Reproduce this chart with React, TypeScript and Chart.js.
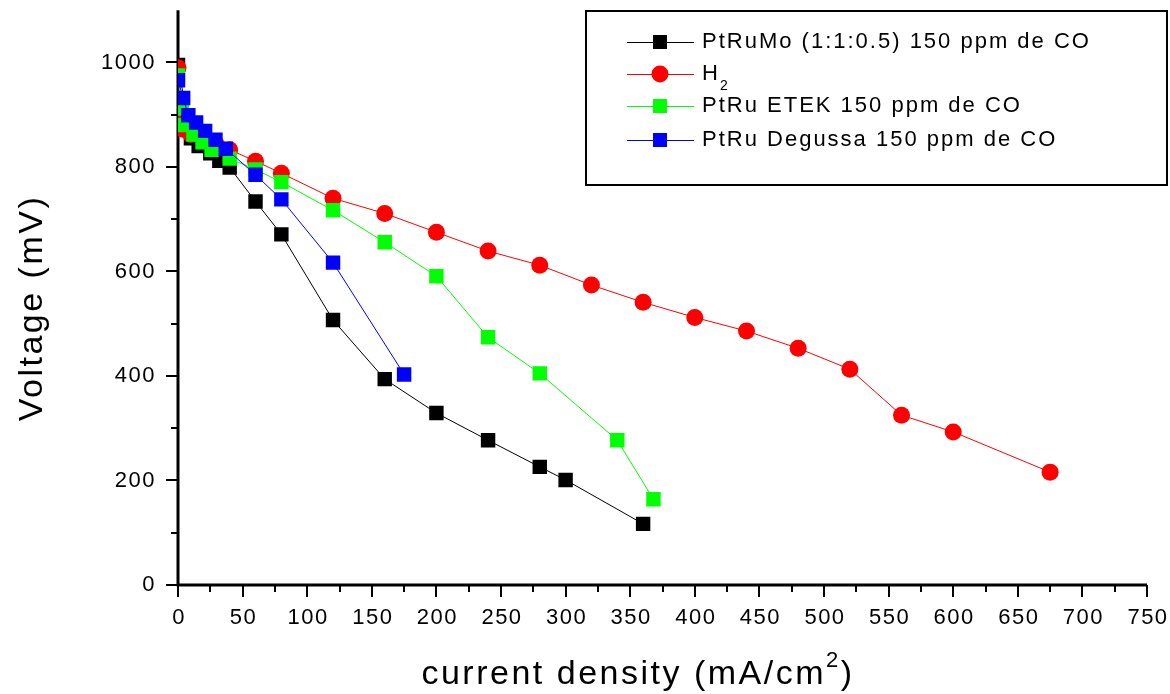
import React, { useEffect, useRef } from 'react';
import { Chart, registerables } from 'chart.js';

Chart.register(...registerables);

// ---- data ----
const ptRuMoX = [0, 10, 16, 25, 32, 40, 60, 80, 120, 160, 200, 240, 280, 300, 360];
const ptRuMoY = [995, 855, 840, 826, 812, 799, 734, 671, 507, 394, 329, 277, 226, 201, 117];

const h2X = [0, 2, 4, 10, 20, 30, 40, 60, 80, 120, 160, 200, 240, 280, 320, 360, 400, 440, 480, 520, 560, 600, 675];
const h2Y = [990, 890, 872, 862, 852, 842, 833, 811, 788, 740, 711, 675, 639, 612, 574, 541, 512, 486, 453, 413, 325, 293, 216];

const etekX = [0, 3, 5, 12, 19, 26, 40, 60, 80, 120, 160, 200, 240, 280, 340, 368];
const etekY = [975, 912, 880, 862, 847, 833, 816, 795, 771, 717, 656, 591, 474, 405, 277, 164];

const degussaX = [0, 4, 8, 14, 21, 29, 37, 60, 80, 120, 175];
const degussaY = [966, 932, 899, 885, 869, 852, 835, 785, 738, 617, 403];

const SERIES_LABELS = [
  'PtRuMo (1:1:0.5) 150 ppm de CO',
  'H',
  'PtRu ETEK 150 ppm de CO',
  'PtRu Degussa 150 ppm de CO',
];
const H2_SUB = '2';

const X_TICK_LABELS = ['0', '50', '100', '150', '200', '250', '300', '350', '400', '450', '500', '550', '600', '650', '700', '750'];
const Y_TICK_LABELS = ['0', '200', '400', '600', '800', '1000'];
const X_MINOR = ['25', '75', '125', '175', '225', '275', '325', '375', '425', '475', '525', '575', '625', '675', '725'];
const Y_MINOR = ['100', '300', '500', '700', '900'];

const X_TITLE = 'current density (mA/cm';
const X_TITLE_SUP = '2';
const X_TITLE_END = ')';
const Y_TITLE = 'Voltage (mV)';

const FONT = '"Liberation Sans", Arial, Helvetica, sans-serif';

const COLORS = ['#000000', '#ff0000', '#00ff00', '#0000ff'];
const STYLES = ['rect', 'circle', 'rect', 'rect'];

function pts(xs: number[], ys: number[]) {
  return xs.map((x, i) => ({ x, y: ys[i] }));
}

const decor = {
  id: 'decor',
  beforeDatasetsDraw(chart: any) {
    const { ctx, chartArea: a, scales } = chart;
    const xs = scales.x;
    const ys = scales.y;
    ctx.save();
    ctx.strokeStyle = '#000';
    ctx.lineWidth = 2;
    X_TICK_LABELS.forEach((l) => {
      const px = Math.round(xs.getPixelForValue(Number(l)));
      ctx.beginPath();
      ctx.moveTo(px, a.bottom);
      ctx.lineTo(px, a.bottom + 12);
      ctx.stroke();
    });
    X_MINOR.forEach((l) => {
      const px = Math.round(xs.getPixelForValue(Number(l)));
      ctx.beginPath();
      ctx.moveTo(px, a.bottom);
      ctx.lineTo(px, a.bottom + 7);
      ctx.stroke();
    });
    Y_TICK_LABELS.forEach((l) => {
      const py = Math.round(ys.getPixelForValue(Number(l)));
      ctx.beginPath();
      ctx.moveTo(a.left, py);
      ctx.lineTo(a.left - 12, py);
      ctx.stroke();
    });
    Y_MINOR.forEach((l) => {
      const py = Math.round(ys.getPixelForValue(Number(l)));
      ctx.beginPath();
      ctx.moveTo(a.left, py);
      ctx.lineTo(a.left - 7, py);
      ctx.stroke();
    });
    ctx.lineWidth = 3;
    ctx.beginPath();
    ctx.moveTo(a.left, a.top);
    ctx.lineTo(a.left, a.bottom);
    ctx.lineTo(a.right, a.bottom);
    ctx.stroke();
    ctx.restore();
  },
  afterDraw(chart: any) {
    const { ctx, chartArea: a, scales } = chart;
    const xs = scales.x;
    const ys = scales.y;
    ctx.save();
    ctx.fillStyle = '#000';
    (ctx as any).letterSpacing = '1.5px';
    ctx.font = `22px ${FONT}`;
    // x tick labels
    ctx.textAlign = 'center';
    ctx.textBaseline = 'middle';
    X_TICK_LABELS.forEach((l) => {
      ctx.fillText(l, xs.getPixelForValue(Number(l)) + 1, a.bottom + 33);
    });
    // y tick labels
    ctx.textAlign = 'right';
    Y_TICK_LABELS.forEach((l) => {
      ctx.fillText(l, a.left - 22, ys.getPixelForValue(Number(l)));
    });

    // y title
    ctx.save();
    (ctx as any).letterSpacing = '2.5px';
    ctx.font = `34px ${FONT}`;
    ctx.translate(33, 308);
    ctx.rotate(-Math.PI / 2);
    ctx.textAlign = 'center';
    ctx.textBaseline = 'middle';
    ctx.fillText(Y_TITLE, 0, 0);
    ctx.restore();

    // x title
    ctx.save();
    (ctx as any).letterSpacing = '2.5px';
    ctx.font = `34px ${FONT}`;
    ctx.textBaseline = 'alphabetic';
    ctx.textAlign = 'left';
    const w1 = ctx.measureText(X_TITLE).width;
    ctx.font = `22px ${FONT}`;
    const w2 = ctx.measureText(X_TITLE_SUP).width;
    ctx.font = `34px ${FONT}`;
    const w3 = ctx.measureText(X_TITLE_END).width;
    const total = w1 + w2 + w3;
    let sx = 638 - total / 2;
    const by = 684;
    ctx.fillText(X_TITLE, sx, by);
    sx += w1;
    ctx.font = `22px ${FONT}`;
    ctx.fillText(X_TITLE_SUP, sx, by - 17);
    sx += w2;
    ctx.font = `34px ${FONT}`;
    ctx.fillText(X_TITLE_END, sx, by);
    ctx.restore();

    // legend
    ctx.save();
    ctx.strokeStyle = '#000';
    ctx.lineWidth = 2;
    ctx.strokeRect(586, 11, 581, 174);
    const rows = [42, 74, 106, 140];
    SERIES_LABELS.forEach((lab, i) => {
      const ry = rows[i];
      ctx.strokeStyle = COLORS[i];
      ctx.lineWidth = 1;
      ctx.beginPath();
      ctx.moveTo(627, ry + 0.5);
      ctx.lineTo(694, ry + 0.5);
      ctx.stroke();
      ctx.fillStyle = COLORS[i];
      if (STYLES[i] === 'circle') {
        ctx.beginPath();
        ctx.arc(660, ry, 8.5, 0, Math.PI * 2);
        ctx.fill();
      } else {
        ctx.fillRect(660 - 7, ry - 7, 14, 14);
      }
      ctx.fillStyle = '#000';
      (ctx as any).letterSpacing = '2px';
      ctx.font = `22px ${FONT}`;
      ctx.textAlign = 'left';
      ctx.textBaseline = 'middle';
      ctx.fillText(lab, 702, ry);
      if (i === 1) {
        const hw = ctx.measureText(lab).width;
        ctx.font = `14px ${FONT}`;
        ctx.fillText(H2_SUB, 702 + hw, ry + 12);
      }
    });
    ctx.restore();
    ctx.restore();
  },
};

export default function App() {
  const ref = useRef<HTMLCanvasElement | null>(null);
  useEffect(() => {
    if (!ref.current) return;
    const seriesData = [
      pts(ptRuMoX, ptRuMoY),
      pts(h2X, h2Y),
      pts(etekX, etekY),
      pts(degussaX, degussaY),
    ];
    const orders = [3, 2, 1, 0];
    const chart = new Chart(ref.current, {
      type: 'line',
      data: {
        datasets: seriesData.map((d, i) => ({
          label: SERIES_LABELS[i],
          data: d,
          borderColor: COLORS[i],
          backgroundColor: COLORS[i],
          borderWidth: 1,
          pointStyle: STYLES[i] as any,
          pointRadius: STYLES[i] === 'circle' ? 8.5 : 10.2,
          pointBorderWidth: 0,
          pointBackgroundColor: COLORS[i],
          pointBorderColor: COLORS[i],
          tension: 0,
          fill: false,
          order: orders[i],
        })),
      },
      options: {
        responsive: false,
        animation: false,
        devicePixelRatio: 1,
        layout: { padding: { left: 178, right: 23, top: 10, bottom: 109 } },
        plugins: {
          legend: { display: false },
          tooltip: { enabled: false },
        },
        scales: {
          x: {
            type: 'linear',
            min: 0,
            max: 750,
            grid: { display: false, drawTicks: false },
            border: { display: false },
            ticks: { display: false },
            afterFit: (s: any) => {
              s.height = 0;
            },
          },
          y: {
            type: 'linear',
            min: 0,
            max: 1100,
            grid: { display: false, drawTicks: false },
            border: { display: false },
            ticks: { display: false },
            afterFit: (s: any) => {
              s.width = 0;
            },
          },
        },
      },
      plugins: [decor],
    });
    return () => chart.destroy();
  }, []);
  return (
    <div style={{ position: 'fixed', left: 0, top: 0, width: 1170, height: 694, background: '#fff' }}>
      <canvas ref={ref} width={1170} height={694} style={{ width: 1170, height: 694, display: 'block' }} />
    </div>
  );
}
